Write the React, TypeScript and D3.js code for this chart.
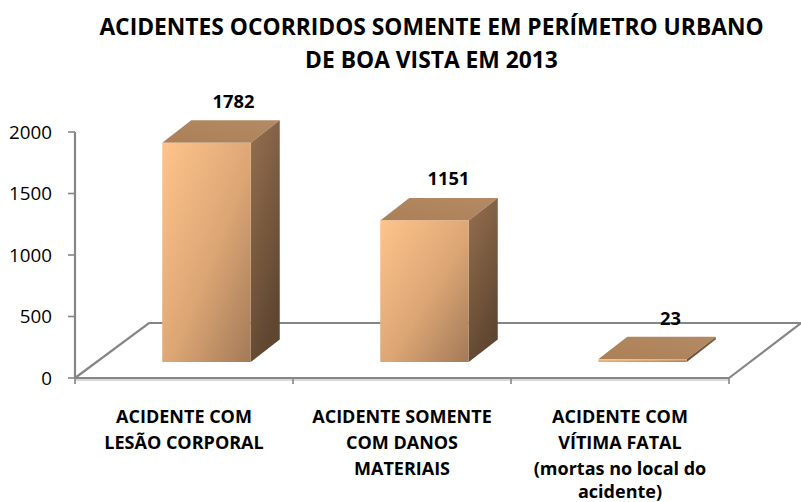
import React from "react";
import * as d3 from "d3";

const titleLines = ["ACIDENTES OCORRIDOS SOMENTE EM PERÍMETRO URBANO", "DE BOA VISTA EM 2013"];
const categories = ["a", "b", "c"];
const categoryLabels = [
  ["ACIDENTE COM", "LESÃO CORPORAL"],
  ["ACIDENTE SOMENTE", "COM DANOS", "MATERIAIS"],
  ["ACIDENTE COM", "VÍTIMA FATAL", "(mortas no local do", "acidente)"],
];
const values = [1782, 1151, 23];
const yTicks = [0, 500, 1000, 1500, 2000];

const FONT = "'Open Sans', sans-serif";
const AXIS = "#868686";

export default function App() {
  const y = d3.scaleLinear().domain([0, 2000]).range([378, 132]);
  const x = d3.scaleBand().domain(categories).range([75, 729]).paddingInner(0).paddingOuter(0);
  const floorDx = 74;
  const floorDy = -55;
  const barDx = 29;
  const barDy = -22.5;
  const barBaseShift = -16;
  const barW = 88.5;
  const labelShift = [-2, -5, -1];
  const lineOffsets = [0, 26, 52, 75];
  const outline = d3.line();
  const right = x.range()[1];
  const left = x.range()[0];
  const floorY = y(0);

  return (
    <svg width={801} height={502} style={{ position: "absolute", left: 0, top: 0, background: "#fff" }}>
      <defs>
        <linearGradient id="front" x1="0" y1="0" x2="1" y2="1">
          <stop offset="0" stopColor="#FFC48C" />
          <stop offset="0.55" stopColor="#DBA574" />
          <stop offset="1" stopColor="#A27A58" />
        </linearGradient>
        <linearGradient id="side" x1="0" y1="0" x2="0.4" y2="1">
          <stop offset="0" stopColor="#967050" />
          <stop offset="1" stopColor="#5F4630" />
        </linearGradient>
        <linearGradient id="top" x1="0" y1="1" x2="1" y2="0">
          <stop offset="0" stopColor="#AB8058" />
          <stop offset="1" stopColor="#B48A64" />
        </linearGradient>
      </defs>

      {titleLines.map((t, i) => (
        <text key={t} x={431.5} y={35 + i * 33} textAnchor="middle" fontFamily={FONT} fontWeight={700} fontSize={22.8} fill="#000">
          {t}
        </text>
      ))}

      <path d={outline([[left, floorY + 2], [right, floorY + 2]]) ?? ""} stroke="#d9d9d9" strokeWidth={2} fill="none" />
      <path
        d={outline([
          [left, floorY],
          [left + floorDx, floorY + floorDy],
          [right + floorDx - 2, floorY + floorDy],
          [right, floorY],
          [left, floorY],
        ]) ?? ""}
        fill="none"
        stroke={AXIS}
        strokeWidth={2.2}
      />
      <path d={outline([[left, y(2000)], [left, floorY]]) ?? ""} stroke={AXIS} strokeWidth={2.2} fill="none" />
      {yTicks.map((t) => (
        <g key={t}>
          <line x1={left - 7} x2={left} y1={y(t)} y2={y(t)} stroke={AXIS} strokeWidth={1.6} />
          <text x={52} y={y(t) + 6.5} textAnchor="end" fontFamily={FONT} fontSize={18.8} fill="#000">
            {t}
          </text>
        </g>
      ))}
      {[...categories.map((c) => x(c) as number), right].map((tx) => (
        <line key={tx} x1={tx} x2={tx} y1={floorY} y2={floorY + 6} stroke={AXIS} strokeWidth={1.6} />
      ))}

      {categories.map((c, i) => {
        const x0 = (x(c) as number) + (x.bandwidth() - barW) / 2 + 22.5;
        const x1 = x0 + barW;
        const yb = floorY + barBaseShift;
        const yt = y(values[i]) + barBaseShift;
        return (
          <g key={c}>
            <path
              d={outline([[x0, yt], [x0 + barDx, yt + barDy], [x1 + barDx, yt + barDy], [x1, yt]]) + "Z"}
              fill="url(#top)"
            />
            <path
              d={outline([[x1, yt], [x1 + barDx, yt + barDy], [x1 + barDx, yb + barDy], [x1, yb]]) + "Z"}
              fill="url(#side)"
            />
            <rect x={x0} y={yt} width={barW} height={yb - yt} fill="url(#front)" />
            <text
              x={x0 + barW / 2 + barDx + labelShift[i]}
              y={yt + barDy - (i === 2 ? 12 : 12.5)}
              textAnchor="middle"
              fontFamily={FONT}
              fontWeight={700}
              fontSize={18.3}
              fill="#000"
            >
              {values[i]}
            </text>
          </g>
        );
      })}

      {categories.map((c, i) =>
        categoryLabels[i].map((line, j) => (
          <text
            key={line}
            x={(x(c) as number) + x.bandwidth() / 2}
            y={423 + lineOffsets[j]}
            textAnchor="middle"
            fontFamily={FONT}
            fontWeight={700}
            fontSize={18}
            fill="#000"
          >
            {line}
          </text>
        ))
      )}
    </svg>
  );
}
